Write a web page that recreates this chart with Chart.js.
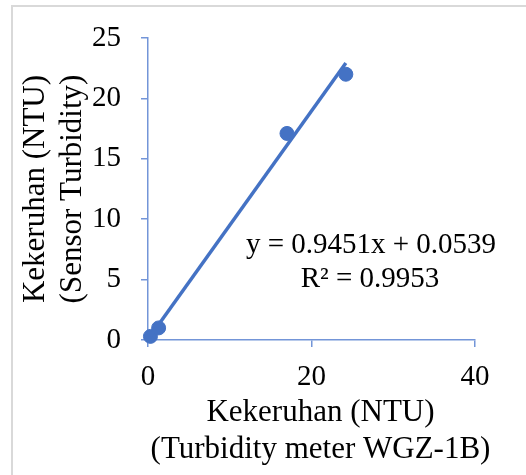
<!DOCTYPE html>
<html>
<head>
<meta charset="utf-8">
<script src="https://cdn.jsdelivr.net/npm/chart.js@4/dist/chart.umd.min.js"></script>
<style>
    body { margin: 0; background: #fff; overflow: hidden; }
    #frame {
        position: absolute;
        left: 11px;
        top: 5px;
        width: 600px;
        height: 600px;
        border-left: 2px solid #d9d9d9;
        border-top: 2px solid #d9d9d9;
    }
    #chart { position: absolute; left: 0; top: 0; }
</style>
</head>
<body>
<div id="frame"></div>
<canvas id="chart" width="526" height="475"></canvas>
<script>
// data
const turbidityMeter = [0.3, 1.3, 17.0, 24.2];   // x, NTU
const sensorTurbidity = [0.3, 1.0, 17.1, 22.0];  // y, NTU
const xTicks = [0, 20, 40];
const yTicks = [0, 5, 10, 15, 20, 25];

// trendline as printed on the chart
const slope = 0.9451;
const intercept = 0.0539;
const equationText = "y = 0.9451x + 0.0539";
const r2Text = "R² = 0.9953";

const xTitle = ["Kekeruhan (NTU)", "(Turbidity meter WGZ-1B)"];
const yTitle = ["Kekeruhan (NTU)", "(Sensor Turbidity)"];

const blue = "#4472c4";
const axisBlue = "#7395d8";
const serif = "'Liberation Serif', 'Times New Roman', serif";

const points = turbidityMeter.map((x, i) => ({ x: x, y: sensorTurbidity[i] }));
const xMin = Math.min(...turbidityMeter);
const xMax = Math.max(...turbidityMeter);
const trend = [
    { x: xMin, y: slope * xMin + intercept },
    { x: xMax, y: slope * xMax + intercept }
];

// equation label and x title, placed like Excel does
const textLayer = {
    id: "textLayer",
    afterDraw(chart) {
        const { ctx, chartArea } = chart;
        ctx.save();
        ctx.fillStyle = "#000";
        ctx.textAlign = "center";
        ctx.textBaseline = "middle";

        ctx.font = "31px " + serif;
        const tx = (chartArea.left + chartArea.right) / 2 + 9;
        ctx.fillText(xTitle[0], tx, chartArea.bottom + 73);
        ctx.fillText(xTitle[1], tx, chartArea.bottom + 110);

        ctx.font = "29px " + serif;
        ctx.textBaseline = "alphabetic";
        const cx = chartArea.left + 223;
        ctx.fillText(equationText, cx, chartArea.top + 215);
        ctx.fillText(r2Text, cx - 1, chartArea.top + 249);
        ctx.restore();
    }
};

new Chart(document.getElementById("chart"), {
    type: "scatter",
    data: {
        datasets: [
            {
                label: "trend",
                type: "line",
                data: trend,
                borderColor: blue,
                borderWidth: 3.5,
                pointRadius: 0,
                fill: false,
                clip: false,
                order: 0
            },
            {
                label: "data",
                data: points,
                backgroundColor: blue,
                borderColor: blue,
                pointRadius: 7,
                pointHoverRadius: 7,
                clip: false,
                order: 1
            }
        ]
    },
    options: {
        responsive: false,
        devicePixelRatio: 1,
        animation: false,
        layout: { padding: { top: 38, right: 51, left: 0, bottom: 0 } },
        plugins: {
            legend: { display: false },
            tooltip: { enabled: false }
        },
        scales: {
            x: {
                type: "linear",
                min: xTicks[0],
                max: xTicks[xTicks.length - 1],
                afterBuildTicks: s => { s.ticks = xTicks.map(v => ({ value: v })); },
                afterFit: s => { s.height = 135; },
                border: { color: axisBlue, width: 1.5 },
                grid: { drawOnChartArea: false, drawTicks: true, tickLength: 7, color: axisBlue, lineWidth: 1.5 },
                ticks: { color: "#000", padding: 13, font: { family: serif, size: 29 } },
                title: { display: false }
            },
            y: {
                type: "linear",
                min: yTicks[0],
                max: yTicks[yTicks.length - 1],
                afterBuildTicks: s => { s.ticks = yTicks.map(v => ({ value: v })); },
                afterFit: s => { s.width = 148; },
                border: { color: axisBlue, width: 1.5 },
                grid: { drawOnChartArea: false, drawTicks: true, tickLength: 7, color: axisBlue, lineWidth: 1.5 },
                ticks: { color: "#000", padding: 20, font: { family: serif, size: 29 } },
                title: {
                    display: true,
                    text: yTitle,
                    color: "#000",
                    padding: { top: 17, bottom: 0 },
                    font: { family: serif, size: 31, lineHeight: 1.2 }
                }
            }
        }
    },
    plugins: [textLayer]
});
</script>
</body>
</html>
